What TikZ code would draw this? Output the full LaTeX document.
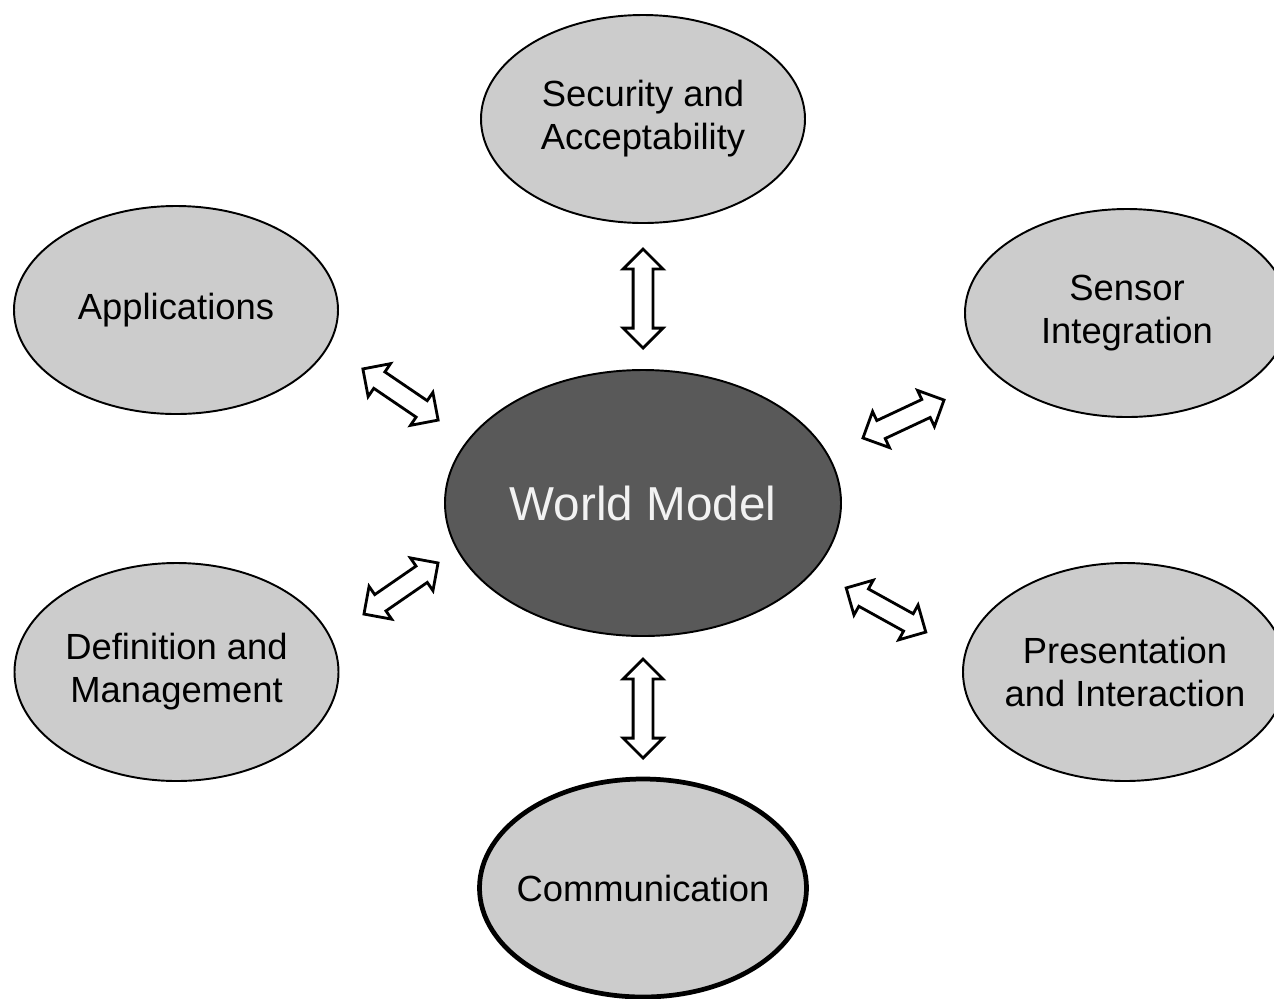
\documentclass[tikz,border=0pt]{standalone}
\usepackage{fontspec}
\setmainfont{Liberation Sans}
\usepackage{tikz}
\usetikzlibrary{shapes.geometric, shapes.arrows}

\begin{document}
\begin{tikzpicture}[
    part/.style={draw, ellipse, line width=1.1pt, fill=gray!40, inner xsep=-1cm, inner ysep=0pt,
      minimum width=6.48cm, minimum height=4.16cm, align=center,
      font=\fontsize{20.7}{24.4}\selectfont},
    core/.style={draw, ellipse, line width=1.1pt, fill=black!65, inner sep=0pt,
      minimum width=7.92cm, minimum height=5.32cm, text=white!95!black,
      font=\fontsize{27.1}{32}\selectfont},
    link/.style={draw, double arrow, fill=white, line width=1.6pt, inner xsep=0pt,
      inner ysep=0.17cm, minimum height=1.9cm, minimum width=0.76cm,
      double arrow head extend=0.2cm}]
  \clip (0,0) rectangle (25.48,-19.96);
  \useasboundingbox (0,0) rectangle (25.48,-19.96);

  % centre and the six parts around it
  \node[core] (world) at (12.86,-10.06) {World Model};
  \node[part] (secure) at (12.86,-2.38) {Security and\\Acceptability};
  \node[part] (apps) at (3.52,-6.2) {Applications};
  \node[part] (sensor) at (22.54,-6.26) {Sensor\\Integration};
  \node[part, minimum height=4.36cm] (define) at (3.53,-13.44) {Definition and\\Management};
  \node[part, minimum height=4.36cm] (present) at (22.5,-13.44) {Presentation\\and Interaction};
  \node[part, minimum height=4.36cm, minimum width=6.54cm, line width=2.7pt] (comm) at (12.86,-17.76) {Communication};

  % two-way arrows between the centre and each part
  \node[link, rotate=90, minimum height=1.98cm] (l-secure) at (12.86,-5.97) {};
  \node[link, rotate=90, minimum height=1.98cm] (l-comm) at (12.86,-14.17) {};
  \node[link, rotate=-34.2, minimum height=1.82cm] (l-apps) at (8.01,-7.89) {};
  \node[link, rotate=25.1, minimum height=1.79cm] (l-sensor) at (18.07,-8.38) {};
  \node[link, rotate=34.6, minimum height=1.8cm] (l-define) at (8.02,-11.77) {};
  \node[link, rotate=-29, minimum height=1.82cm] (l-present) at (17.72,-12.2) {};
\end{tikzpicture}
\end{document}
